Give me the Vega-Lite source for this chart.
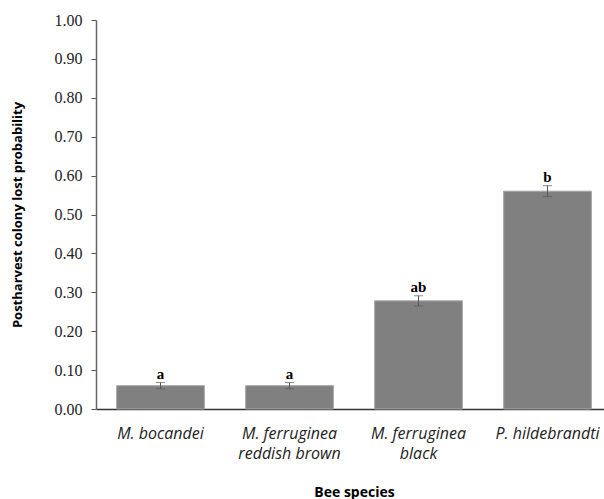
{
  "$schema": "https://vega.github.io/schema/vega-lite/v6.json",
  "autosize": "none",
  "padding": {"left": 96, "top": 20, "right": 0, "bottom": 90},
  "width": 516,
  "height": 389,
  "background": "white",
  "config": {
    "view": {"stroke": null},
    "axisY": {
      "values": [0, 0.05, 0.1, 0.15, 0.2, 0.25, 0.3, 0.35, 0.4, 0.45, 0.5, 0.55, 0.6, 0.65, 0.7, 0.75, 0.8, 0.85, 0.9, 0.95, 1.0],
      "labelExpr": "round(datum.value*100) % 10 == 0 ? format(datum.value, '.2f') : ''",
      "labelOverlap": false,
      "grid": false,
      "tickSize": 5,
      "tickColor": "#555",
      "domainColor": "#666",
      "domainWidth": 1.5,
      "labelPadding": 9,
      "labelFont": "Liberation Serif",
      "labelFontSize": 16,
      "labelColor": "#222",
      "titleFont": "Open Sans",
      "titleFontWeight": "bold",
      "titleFontSize": 13,
      "titleColor": "#000",
      "titlePadding": 30
    }
  },
  "data": {
    "values": [
      {"species": "M. bocandei", "p": 0.06, "lo": 0.052, "hi": 0.068, "group": "a"},
      {"species": "M. ferruginea|reddish brown", "p": 0.06, "lo": 0.052, "hi": 0.068, "group": "a"},
      {"species": "M. ferruginea|black", "p": 0.278, "lo": 0.265, "hi": 0.291, "group": "ab"},
      {"species": "P. hildebrandti", "p": 0.56, "lo": 0.546, "hi": 0.574, "group": "b"}
    ]
  },
  "encoding": {
    "x": {
      "field": "species",
      "type": "nominal",
      "sort": null,
      "scale": {"paddingInner": 0.32, "paddingOuter": 0.16},
      "axis": {
        "title": "Bee species",
        "labelExpr": "split(datum.label, '|')",
        "labelAngle": 0,
        "ticks": false,
        "labelPadding": 16,
        "labelLineHeight": 20,
        "labelFont": "Open Sans",
        "labelFontStyle": "italic",
        "labelFontSize": 16,
        "labelColor": "#222",
        "domainColor": "#333",
        "domainWidth": 1.5,
        "titleFont": "Open Sans",
        "titleFontWeight": "bold",
        "titleFontSize": 14,
        "titleColor": "#000",
        "titlePadding": 24
      }
    }
  },
  "layer": [
    {
      "mark": {"type": "bar", "color": "#808080", "stroke": "#a6a6a6", "strokeWidth": 1},
      "encoding": {
        "y": {
          "field": "p",
          "type": "quantitative",
          "scale": {"domain": [0, 1], "nice": false},
          "title": "Postharvest colony lost probability"
        }
      }
    },
    {
      "mark": {"type": "errorbar", "ticks": {"size": 9, "color": "#555"}, "rule": {"color": "#555"}},
      "encoding": {
        "y": {"field": "lo", "type": "quantitative", "title": "Postharvest colony lost probability"},
        "y2": {"field": "hi"}
      }
    },
    {
      "mark": {"type": "text", "baseline": "bottom", "dy": -1, "font": "Liberation Serif", "fontWeight": "bold", "fontSize": 15, "color": "#000"},
      "encoding": {
        "y": {"field": "hi", "type": "quantitative", "title": "Postharvest colony lost probability"},
        "text": {"field": "group"}
      }
    }
  ]
}
